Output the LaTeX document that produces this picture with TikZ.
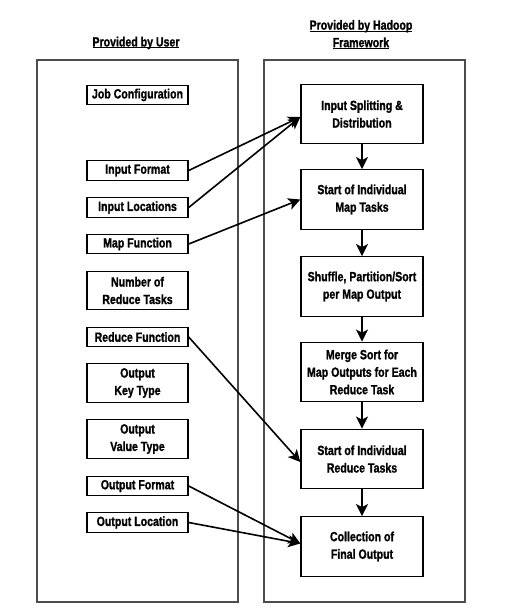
\documentclass[tikz,border=0pt]{standalone}
\usepackage{fontspec}
\setmainfont{Liberation Sans}[FakeStretch=0.795, BoldFeatures={FakeBold=1.2}]
\usetikzlibrary{arrows.meta}
\newcommand\myul[1]{\setbox0\hbox{#1}\rlap{\rule[-1.8pt]{\wd0}{0.9pt}}\box0}
\begin{document}
\begin{tikzpicture}[x=1pt,y=-1pt,
  every node/.style={font=\fontsize{13.3}{17.5}\selectfont\bfseries},
  outer/.style={draw=black!70, line width=1.5pt},
  ubox/.style={draw, line width=1.4pt, minimum width=101pt, minimum height=19.5pt, inner sep=0pt, align=center},
  ubox2/.style={ubox, minimum height=38.5pt},
  hbox/.style={draw, line width=1.4pt, minimum width=122pt, minimum height=59.5pt, inner sep=0pt, align=center},
  arr/.style={line width=1.6pt, -{Stealth[length=12pt,width=12pt,inset=3pt]}},
  ttl/.style={align=center, inner sep=0pt}]
\useasboundingbox (0,0) rectangle (507,616);
\draw[outer] (37,60) rectangle (238,602);
\draw[outer] (264,60) rectangle (465,602);
\node[ttl] (tuser) at (136,43) {\myul{Provided by User}};
\node[ttl] (thadoop) at (361,34.5) {\myul{Provided by Hadoop}\\\myul{Framework}};
% user boxes
\node[ubox] (job) at (137.5,95) {Job Configuration};
\node[ubox] (inf) at (137.5,170.5) {Input Format};
\node[ubox] (inl) at (137.5,207.5) {Input Locations};
\node[ubox] (mapf) at (137.5,244) {Map Function};
\node[ubox2] (nred) at (137.5,290.5) {Number of\\Reduce Tasks};
\node[ubox] (redf) at (137.5,337) {Reduce Function};
\node[ubox2] (okt) at (137.5,383) {Output\\Key Type};
\node[ubox2] (ovt) at (137.5,439) {Output\\Value Type};
\node[ubox] (outf) at (137.5,486) {Output Format};
\node[ubox] (outl) at (137.5,522.5) {Output Location};
% hadoop boxes
\node[hbox] (split) at (362,114) {Input Splitting \&\\Distribution};
\node[hbox] (smap) at (362,199.5) {Start of Individual\\Map Tasks};
\node[hbox] (shuf) at (362,286.5) {Shuffle, Partition/Sort\\per Map Output};
\node[hbox] (merge) at (362,372) {Merge Sort for\\Map Outputs for Each\\Reduce Task};
\node[hbox] (sred) at (362,459) {Start of Individual\\Reduce Tasks};
\node[hbox] (coll) at (362,546.5) {Collection of\\Final Output};
% vertical arrows
\draw[arr] (split) -- (smap);
\draw[arr] (smap) -- (shuf);
\draw[arr] (shuf) -- (merge);
\draw[arr] (merge) -- (sred);
\draw[arr] (sred) -- (coll);
% cross arrows
\draw[arr] (inf.east) -- ([yshift=-3pt]split.west);
\draw[arr] (inl.east) -- ([yshift=-3pt]split.west);
\draw[arr] (mapf.east) -- (smap.west);
\draw[arr] (redf.east) -- ([yshift=-3pt]sred.west);
\draw[arr] (outf.east) -- ([yshift=3pt]coll.west);
\draw[arr] (outl.east) -- ([yshift=3pt]coll.west);
\end{tikzpicture}
\end{document}
